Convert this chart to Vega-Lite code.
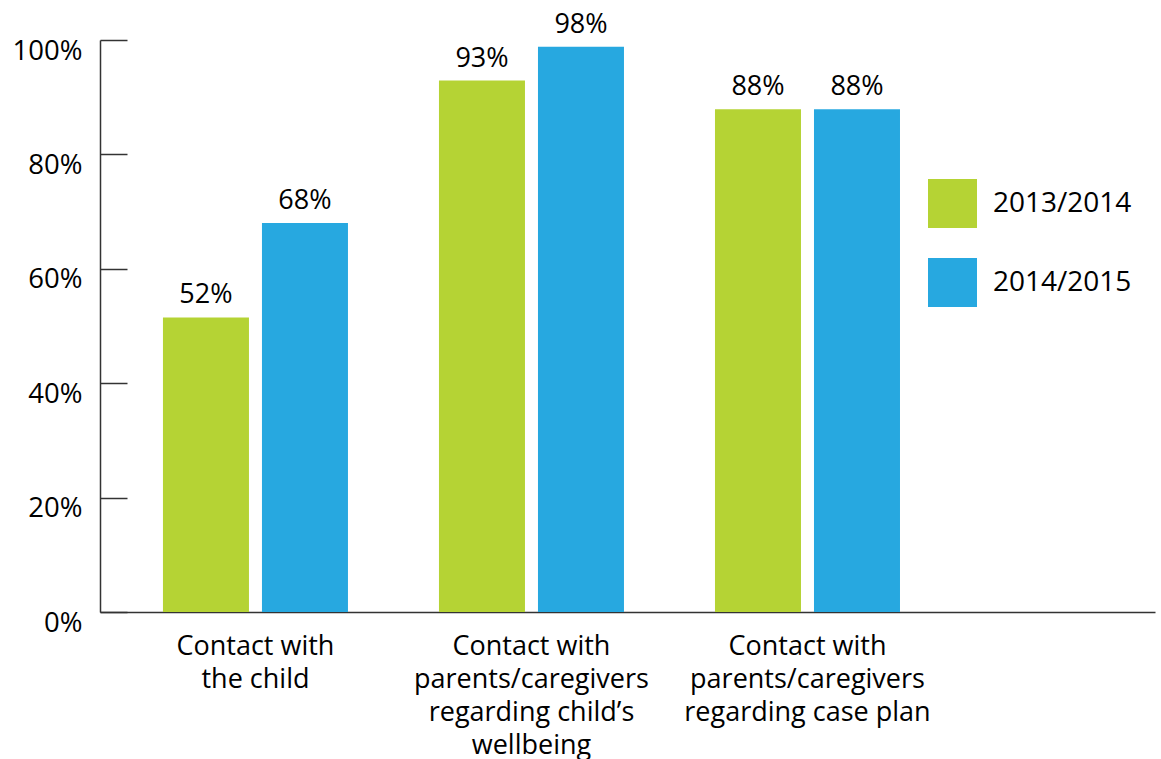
{
  "$schema": "https://vega.github.io/schema/vega-lite/v6.json",
  "width": 1055,
  "height": 572,
  "autosize": {"type": "none"},
  "padding": {"left": 100, "top": 40, "right": 6, "bottom": 147},
  "background": "white",
  "config": {
    "view": {"stroke": null},
    "font": "Open Sans",
    "text": {"font": "Open Sans"}
  },
  "data": {
    "values": [
      {"category": "Contact with|the child", "year": "2013/2014", "value": 51.5, "label": "52%"},
      {"category": "Contact with|the child", "year": "2014/2015", "value": 68.0, "label": "68%"},
      {"category": "Contact with|parents/caregivers|regarding child’s|wellbeing", "year": "2013/2014", "value": 92.9, "label": "93%"},
      {"category": "Contact with|parents/caregivers|regarding child’s|wellbeing", "year": "2014/2015", "value": 98.8, "label": "98%"},
      {"category": "Contact with|parents/caregivers|regarding case plan", "year": "2013/2014", "value": 87.9, "label": "88%"},
      {"category": "Contact with|parents/caregivers|regarding case plan", "year": "2014/2015", "value": 87.9, "label": "88%"}
    ]
  },
  "encoding": {
    "x": {
      "field": "category",
      "type": "nominal",
      "sort": null,
      "scale": {"paddingInner": 0.3297, "paddingOuter": 0.576, "align": 0.198},
      "axis": {
        "title": null,
        "labelAngle": 0,
        "labelExpr": "split(datum.label, '|')",
        "labelFont": "Open Sans",
        "labelFontSize": 27,
        "labelColor": "#000000",
        "labelLineHeight": 33,
        "labelPadding": 21,
        "labelBaseline": "top",
        "labelLimit": 0,
        "ticks": false,
        "domainColor": "#333333",
        "domainWidth": 1.5
      }
    },
    "xOffset": {
      "field": "year",
      "type": "nominal",
      "scale": {"paddingInner": 0.1313, "paddingOuter": 0}
    },
    "y": {
      "field": "value",
      "type": "quantitative",
      "scale": {"domain": [0, 100], "nice": false},
      "axis": {
        "title": null,
        "values": [0, 20, 40, 60, 80, 100],
        "labelExpr": "datum.value + '%'",
        "labelFont": "Open Sans",
        "labelFontSize": 27.5,
        "labelColor": "#000000",
        "labelBaseline": "alphabetic",
        "labelOffset": 19,
        "labelPadding": 45,
        "tickSize": -27,
        "tickColor": "#333333",
        "tickWidth": 1.5,
        "domainColor": "#333333",
        "domainWidth": 1.5,
        "grid": false
      }
    }
  },
  "layer": [
    {
      "mark": {"type": "bar"},
      "encoding": {
        "color": {
          "field": "year",
          "type": "nominal",
          "scale": {"domain": ["2013/2014", "2014/2015"], "range": ["#B5D334", "#27A8E0"]},
          "legend": {
            "title": null,
            "orient": "none",
            "legendX": 828,
            "legendY": 139,
            "symbolType": "square",
            "symbolSize": 2401,
            "symbolStrokeWidth": 0,
            "symbolOpacity": 1,
            "rowPadding": 30,
            "labelOffset": 16,
            "labelFont": "Open Sans",
            "labelFontSize": 28,
            "labelColor": "#000000",
            "labelLimit": 0
          }
        }
      }
    },
    {
      "mark": {"type": "text", "baseline": "alphabetic", "dy": -14, "fontSize": 27, "font": "Open Sans", "color": "#000000"},
      "encoding": {
        "text": {"field": "label"}
      }
    }
  ]
}
